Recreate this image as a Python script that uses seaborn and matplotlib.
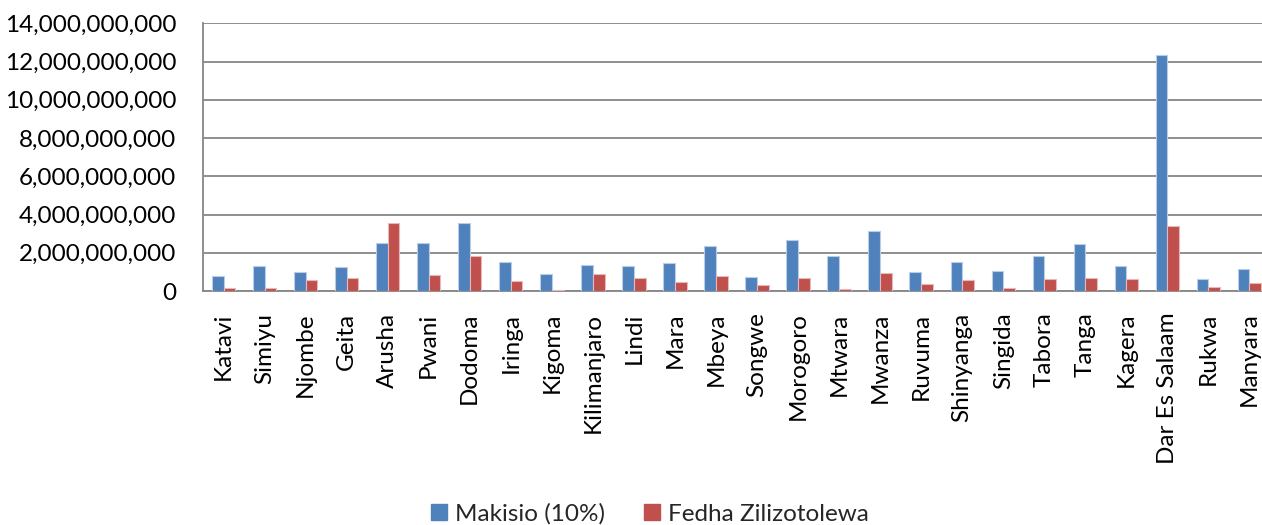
import pandas as pd
import matplotlib
matplotlib.use("Agg")
import matplotlib.pyplot as plt
import matplotlib.ticker as mticker
from matplotlib.patches import Patch
import seaborn as sns

# -----------------------------
# Data
# -----------------------------
regions = [
    "Katavi", "Simiyu", "Njombe", "Geita", "Arusha", "Pwani", "Dodoma",
    "Iringa", "Kigoma", "Kilimanjaro", "Lindi", "Mara", "Mbeya", "Songwe",
    "Morogoro", "Mtwara", "Mwanza", "Ruvuma", "Shinyanga", "Singida",
    "Tabora", "Tanga", "Kagera", "Dar Es Salaam", "Rukwa", "Manyara",
]
makisio = [
    0.76e9, 1.32e9, 0.99e9, 1.24e9, 2.52e9, 2.51e9, 3.58e9,
    1.52e9, 0.87e9, 1.34e9, 1.32e9, 1.45e9, 2.33e9, 0.72e9,
    2.68e9, 1.85e9, 3.16e9, 0.99e9, 1.52e9, 1.05e9,
    1.83e9, 2.46e9, 1.32e9, 12.34e9, 0.64e9, 1.17e9,
]
fedha = [
    0.16e9, 0.14e9, 0.60e9, 0.66e9, 3.58e9, 0.83e9, 1.84e9,
    0.53e9, 0.07e9, 0.88e9, 0.67e9, 0.46e9, 0.78e9, 0.29e9,
    0.67e9, 0.13e9, 0.92e9, 0.34e9, 0.58e9, 0.16e9,
    0.64e9, 0.66e9, 0.61e9, 3.39e9, 0.19e9, 0.40e9,
]
series_names = ["Makisio (10%)", "Fedha Zilizotolewa"]
colors = ["#4F81BD", "#C0504D"]
edge_colors = ["#B9CDE5", "#E6B9B8"]

df = pd.DataFrame({
    "Mkoa": regions * 2,
    "Kiasi": makisio + fedha,
    "Aina": [series_names[0]] * len(regions) + [series_names[1]] * len(regions),
})

# -----------------------------
# Plot
# -----------------------------
sns.set_style("white")
plt.rcParams["font.family"] = ["Lato", "DejaVu Sans"]
fs = 17.5

fig = plt.figure(figsize=(12.62, 5.25), dpi=100)
ax = fig.add_axes([203 / 1262, 1 - 291 / 525, 1067 / 1262, (291 - 23.3) / 525])

sns.barplot(data=df, x="Mkoa", y="Kiasi", hue="Aina", order=regions,
            hue_order=series_names, palette=colors, width=0.57,
            saturation=1, errorbar=None, ax=ax, zorder=3)

# light outline like the original office chart
n = len(regions)
for i, bar in enumerate(ax.patches[:2 * n]):
    bar.set_edgecolor(edge_colors[i // n])
    bar.set_linewidth(0.8)

grid_col = "#868686"
ax.set_ylim(0, 14e9)
ax.set_xlim(-0.5, n - 0.5)
ax.yaxis.set_major_locator(mticker.MultipleLocator(2e9))
ax.yaxis.set_major_formatter(mticker.StrMethodFormatter("{x:,.0f}"))
ax.yaxis.grid(True, color=grid_col, linewidth=1.3, zorder=0)
ax.set_axisbelow(True)

# category boundaries as the x ticks, labels at centers
ax.set_xticks(range(n))
ax.set_xticklabels(regions, rotation=90, fontsize=fs)
ax.set_xticks([i - 0.5 for i in range(n + 1)], minor=True)
ax.tick_params(axis="x", which="major", length=0, pad=15.5)
ax.tick_params(axis="x", which="minor", length=5, width=1.3, color=grid_col)
ax.tick_params(axis="y", length=5.8, width=1.3, color=grid_col, pad=13.5, labelsize=fs)
ax.tick_params(axis="both", labelcolor="black")

for side in ["top", "right"]:
    ax.spines[side].set_visible(False)
for side in ["left", "bottom"]:
    ax.spines[side].set_color(grid_col)
    ax.spines[side].set_linewidth(1.3)

ax.set_xlabel("")
ax.set_ylabel("")
ax.get_legend().remove()

handles = [Patch(facecolor=c, edgecolor=c) for c in colors]
fig.legend(handles, series_names, loc="center", bbox_to_anchor=(650 / 1262, 1 - 514 / 525),
           ncol=2, frameon=False, fontsize=fs, handlelength=0.65, handleheight=0.65,
           handletextpad=0.35, columnspacing=1.6, borderaxespad=0)

fig.savefig("out.png", dpi=100)
